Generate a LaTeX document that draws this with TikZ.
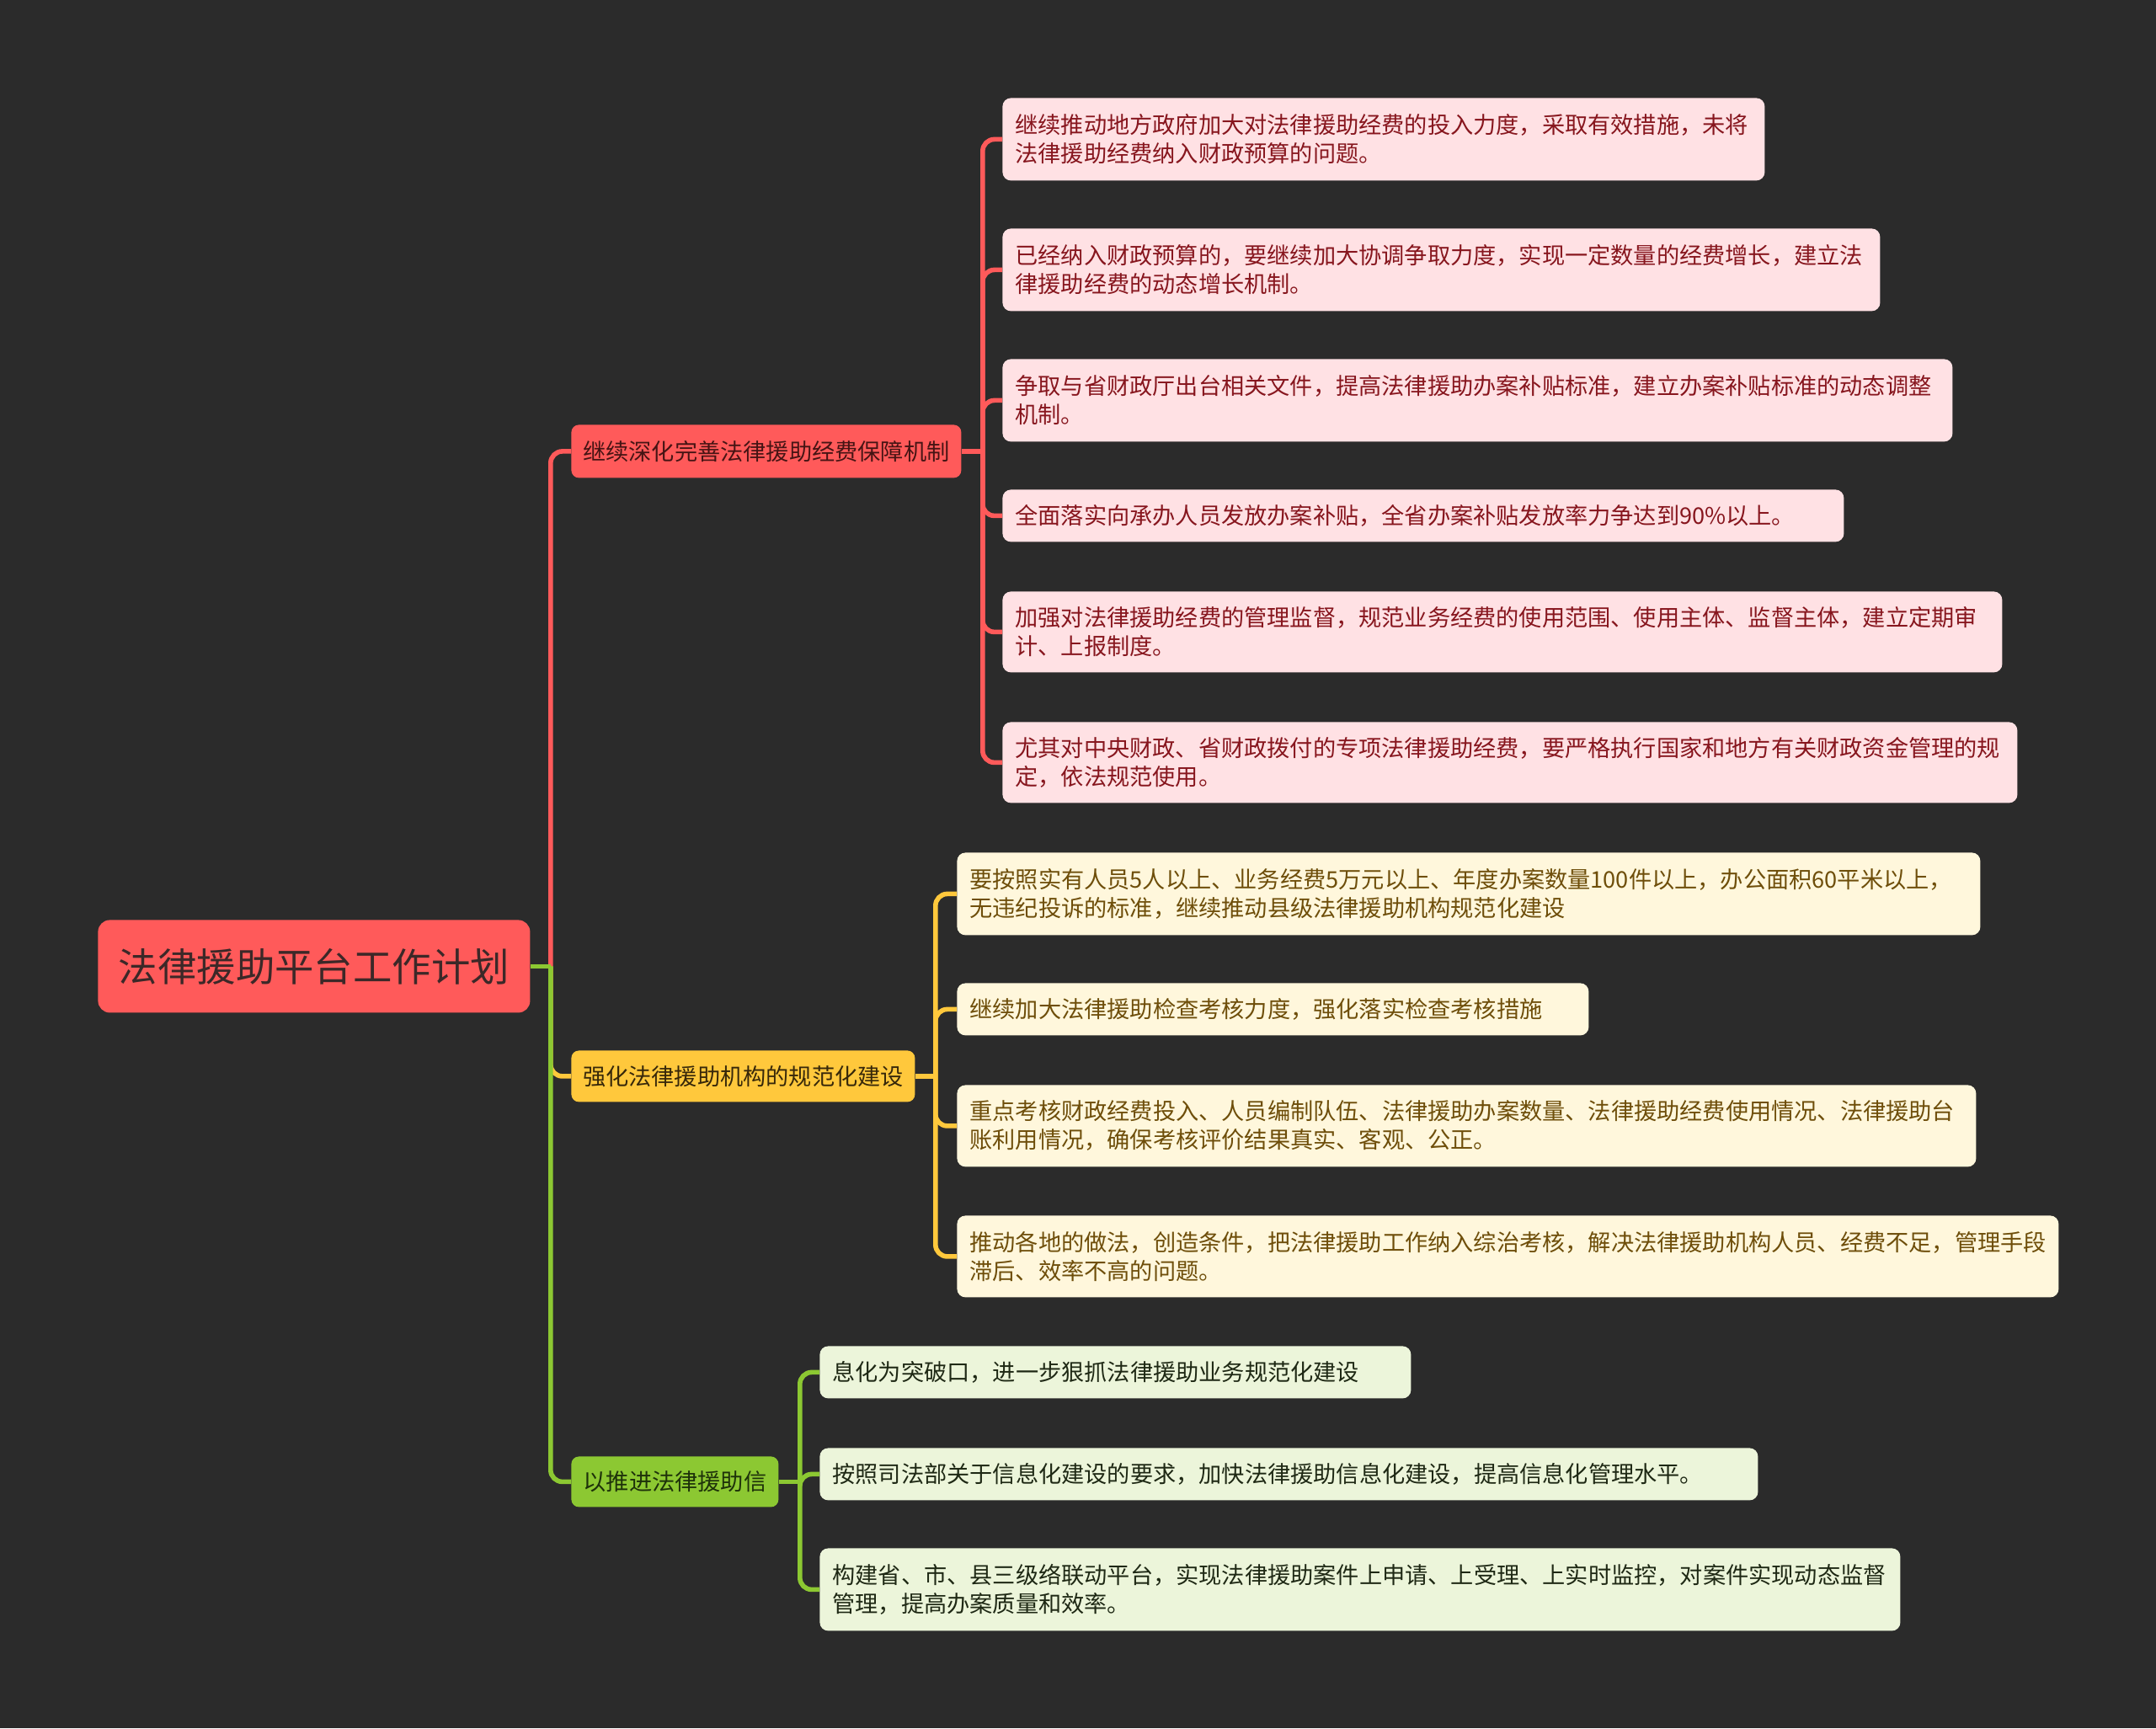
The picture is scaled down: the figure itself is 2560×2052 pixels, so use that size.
\documentclass[tikz,border=0pt]{standalone}
\usepackage{fontspec}
\setmainfont{Noto Sans CJK SC}
\definecolor{bgc}{RGB}{43,43,43}
\definecolor{redc}{RGB}{255,90,90}
\definecolor{redleaf}{RGB}{255,225,228}
\definecolor{redtxt}{RGB}{135,22,30}
\definecolor{redbtxt}{RGB}{70,20,20}
\definecolor{yelc}{RGB}{255,200,60}
\definecolor{yelleaf}{RGB}{255,247,220}
\definecolor{yeltxt}{RGB}{110,78,10}
\definecolor{yelbtxt}{RGB}{55,40,10}
\definecolor{grnc}{RGB}{140,200,50}
\definecolor{grnleaf}{RGB}{236,245,218}
\definecolor{grntxt}{RGB}{30,40,20}
\definecolor{grnbtxt}{RGB}{30,50,10}
\definecolor{roottxt}{RGB}{60,40,40}
\tikzset{
  leafbox/.style={anchor=north west, rounded corners=5pt, inner xsep=7.5pt, inner ysep=0pt, align=left,
    font=\fontsize{13.6pt}{17pt}\selectfont},
  redleafbox/.style={leafbox, fill=redleaf, text=redtxt},
  yelleafbox/.style={leafbox, fill=yelleaf, text=yeltxt},
  grnleafbox/.style={leafbox, fill=grnleaf, text=grntxt},
  branchbox/.style={anchor=north west, rounded corners=4.5pt, inner sep=0pt, align=center,
    font=\fontsize{13.6pt}{17pt}\selectfont},
  rootbox/.style={anchor=north west, rounded corners=7pt, inner sep=0pt, fill=redc, text=roottxt,
    minimum width=256.5pt, minimum height=55pt, font=\fontsize{23.2pt}{28pt}\selectfont},
  link/.style={line width=2.8pt, rounded corners=7pt},
}
\begin{document}
\begin{tikzpicture}[x=0.5pt,y=-0.5pt]
\fill[bgc] (0,0) rectangle (2560,2052);
\useasboundingbox (0,0) rectangle (2560,2052);

% root
\node[rootbox] (root) at (116,1092) {法律援助平台工作计划};

% branches
\node[branchbox, fill=redc, text=redbtxt, minimum width=231.5pt, minimum height=31.5pt] (b1) at (678,504) {继续深化完善法律援助经费保障机制};
\node[branchbox, fill=yelc, text=yelbtxt, minimum width=204pt, minimum height=30.5pt] (b2) at (678,1247) {强化法律援助机构的规范化建设};
\node[branchbox, fill=grnc, text=grnbtxt, minimum width=123pt, minimum height=30pt] (b3) at (678,1729) {以推进法律援助信};

% red leaves
\node[redleafbox, text width=437.5pt, minimum height=49pt] (r1) at (1190,116) {继续推动地方政府加大对法律援助经费的投入力度，采取有效措施，未将\\法律援助经费纳入财政预算的问题。};
\node[redleafbox, text width=506pt, minimum height=49pt] (r2) at (1190,271) {已经纳入财政预算的，要继续加大协调争取力度，实现一定数量的经费增长，建立法\\律援助经费的动态增长机制。};
\node[redleafbox, text width=549pt, minimum height=49pt] (r3) at (1190,426) {争取与省财政厅出台相关文件，提高法律援助办案补贴标准，建立办案补贴标准的动态调整\\机制。};
\node[redleafbox, text width=484.5pt, minimum height=31pt] (r4) at (1190,581) {全面落实向承办人员发放办案补贴，全省办案补贴发放率力争达到90\%以上。};
\node[redleafbox, text width=578.5pt, minimum height=48pt] (r5) at (1190,702) {加强对法律援助经费的管理监督，规范业务经费的使用范围、使用主体、监督主体，建立定期审\\计、上报制度。};
\node[redleafbox, text width=587.5pt, minimum height=48pt] (r6) at (1190,857) {尤其对中央财政、省财政拨付的专项法律援助经费，要严格执行国家和地方有关财政资金管理的规\\定，依法规范使用。};

% yellow leaves
\node[yelleafbox, text width=592.5pt, minimum height=49pt] (y1) at (1136,1012) {要按照实有人员5人以上、业务经费5万元以上、年度办案数量100件以上，办公面积60平米以上，\\无违纪投诉的标准，继续推动县级法律援助机构规范化建设};
\node[yelleafbox, text width=360pt, minimum height=31pt] (y2) at (1136,1167) {继续加大法律援助检查考核力度，强化落实检查考核措施};
\node[yelleafbox, text width=590pt, minimum height=48.5pt] (y3) at (1136,1288) {重点考核财政经费投入、人员编制队伍、法律援助办案数量、法律援助经费使用情况、法律援助台\\账利用情况，确保考核评价结果真实、客观、公正。};
\node[yelleafbox, text width=639pt, minimum height=48.5pt] (y4) at (1136,1443) {推动各地的做法，创造条件，把法律援助工作纳入综治考核，解决法律援助机构人员、经费不足，管理手段\\滞后、效率不高的问题。};

% green leaves
\node[grnleafbox, text width=336pt, minimum height=31pt] (g1) at (973,1598) {息化为突破口，进一步狠抓法律援助业务规范化建设};
\node[grnleafbox, text width=542pt, minimum height=31pt] (g2) at (973,1719) {按照司法部关于信息化建设的要求，加快法律援助信息化建设，提高信息化管理水平。};
\node[grnleafbox, text width=626.5pt, minimum height=49pt] (g3) at (973,1838) {构建省、市、县三级络联动平台，实现法律援助案件上申请、上受理、上实时监控，对案件实现动态监督\\管理，提高办案质量和效率。};

% junction coordinates
\coordinate (s0) at ([xshift=12pt]root.east);
\coordinate (s1) at ([xshift=12.5pt]b1.east);
\coordinate (s2) at ([xshift=12pt]b2.east);
\coordinate (s3) at ([xshift=12.5pt]b3.east);

% red connectors
\draw[link, redc] (b1.east) -- (s1);
\foreach \n in {r1,r2,r3,r4,r5,r6} \draw[link, redc] (s1) |- (\n.west);
\draw[link, redc] (root.east) -- (s0);
\draw[link, redc] (s0) |- (b1.west);

% yellow connectors
\draw[link, yelc] (b2.east) -- (s2);
\foreach \n in {y1,y2,y3,y4} \draw[link, yelc] (s2) |- (\n.west);
\draw[link, yelc] (s0) |- (b2.west);

% green connectors
\draw[link, grnc] (b3.east) -- (s3);
\foreach \n in {g1,g2,g3} \draw[link, grnc] (s3) |- (\n.west);
\draw[link, grnc] (root.east) -- (s0);
\draw[link, grnc] (s0) |- (b3.west);
\end{tikzpicture}
\end{document}
